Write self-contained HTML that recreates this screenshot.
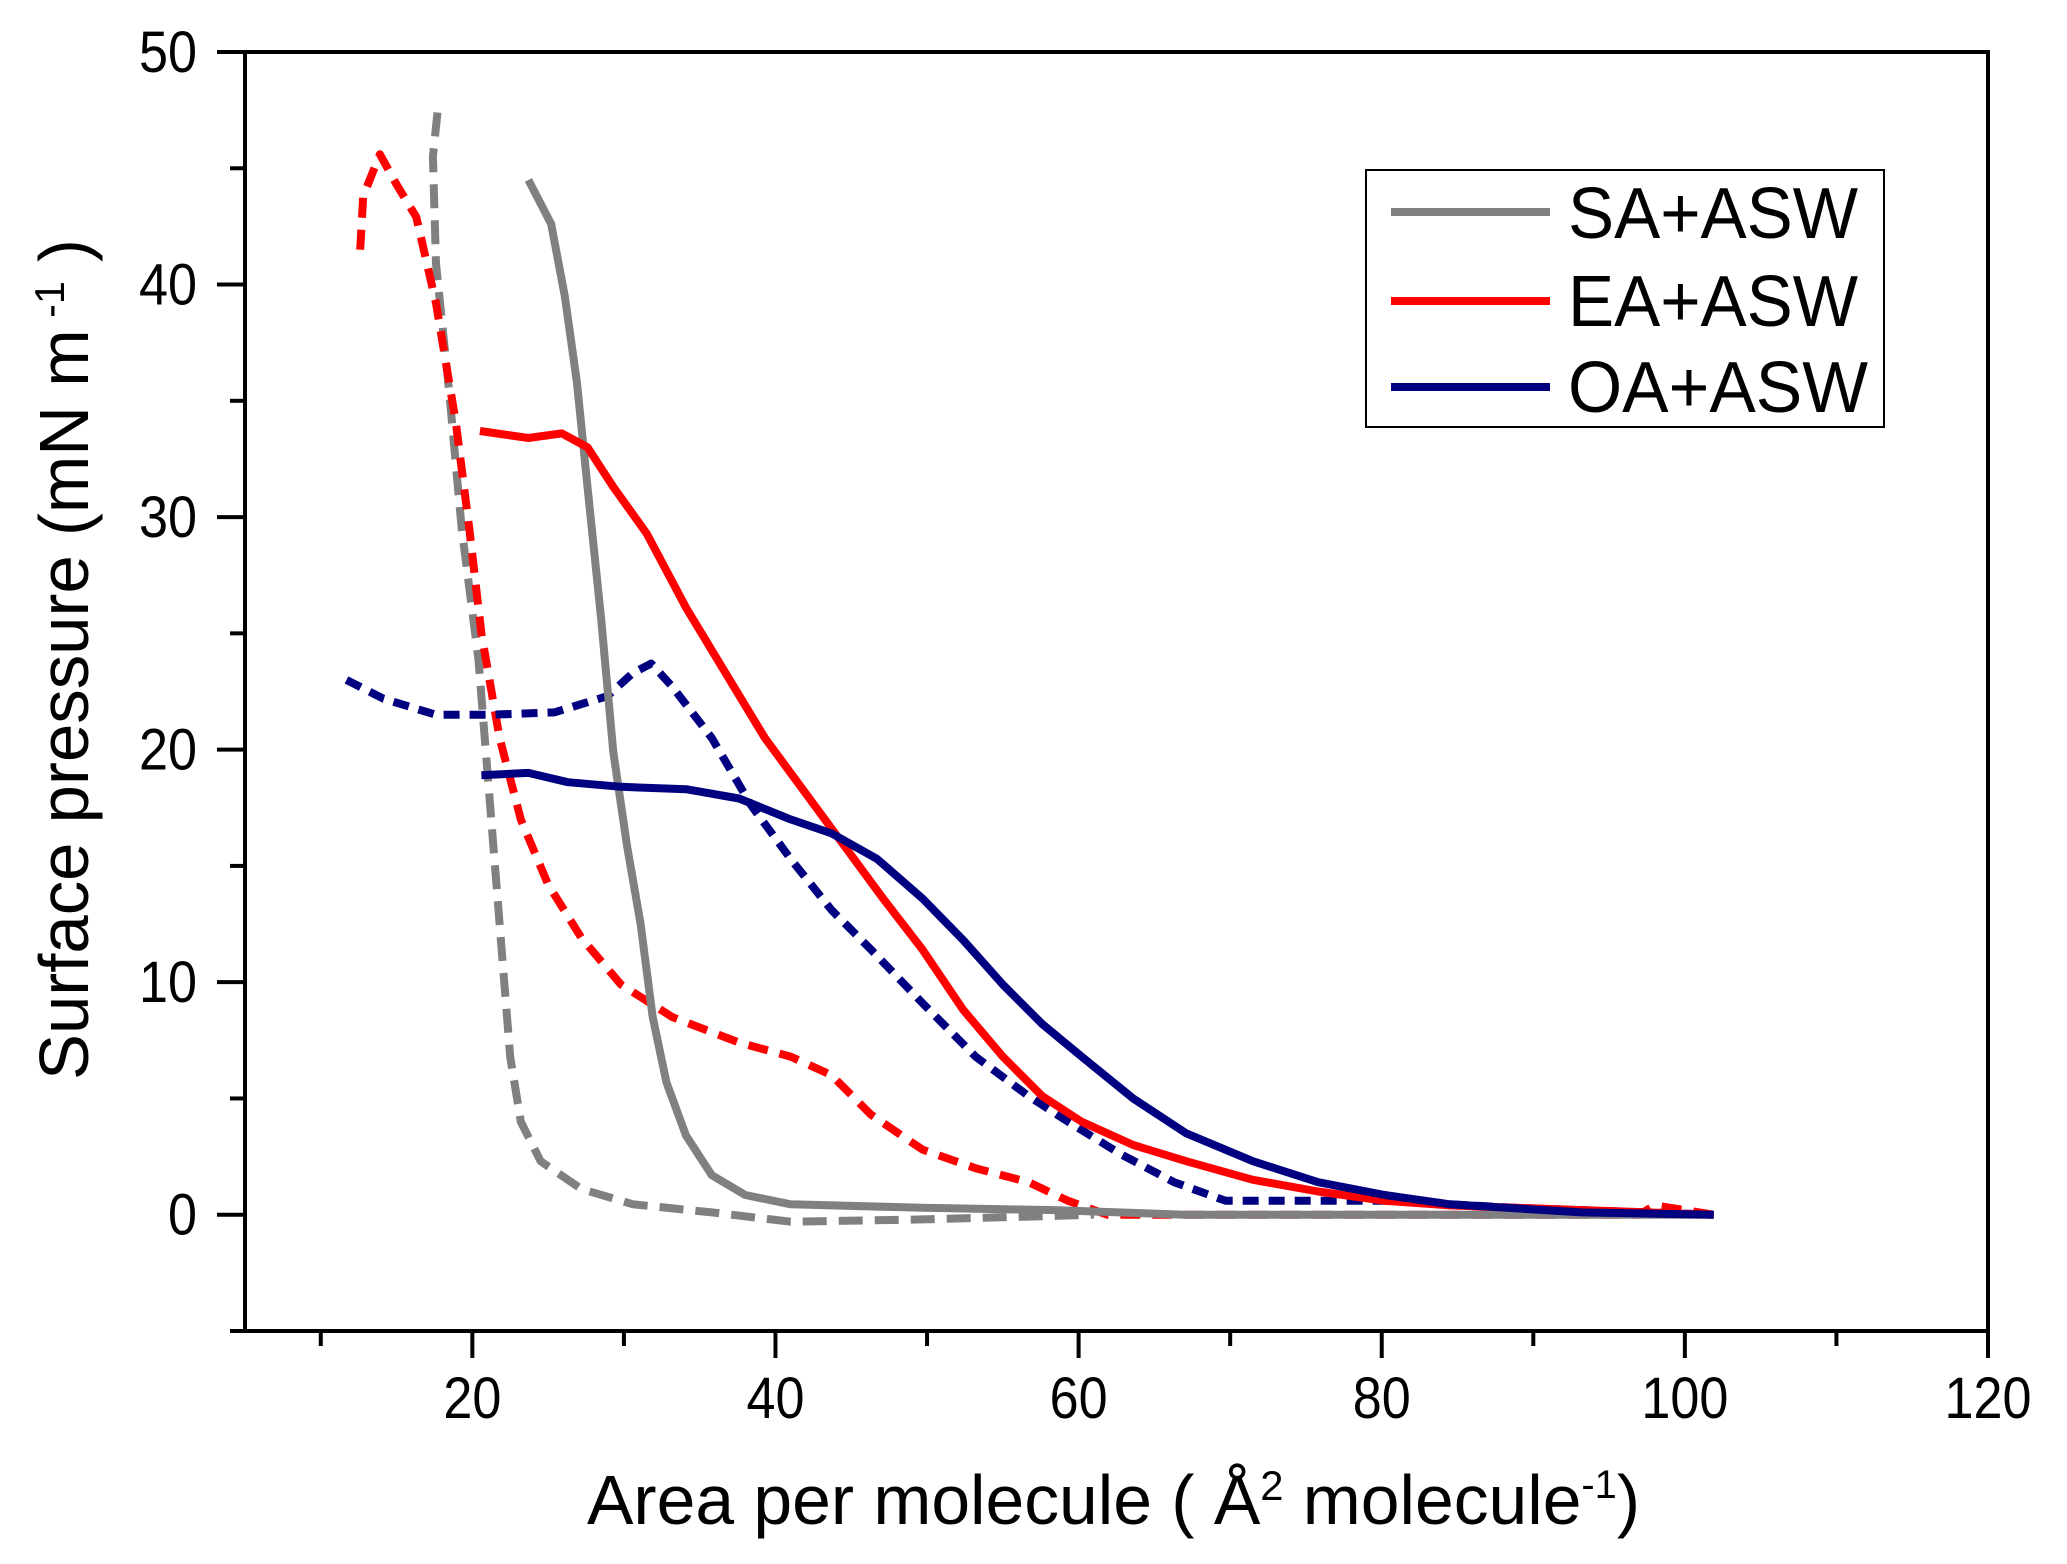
<!DOCTYPE html>
<html><head><meta charset="utf-8"><style>
html,body{margin:0;padding:0;background:#fff;}
svg{display:block;font-family:"Liberation Sans",Arial,sans-serif;}
</style></head><body>
<svg id="chart" width="2067" height="1564" viewBox="0 0 2067 1564">
<g id="plot"></g>
</svg>
<script>
const xTicks=[20,40,60,80,100,120];
const yTicks=[0,10,20,30,40,50];
const seriesNames=["SA+ASW","EA+ASW","OA+ASW"];
const saSolidX=[23.7,25.2,26.1,26.9,27.6,28.5,29.3,30.2,31.1,31.9,32.8,34.1,35.8,38.0,41,49.7,58.4,67,80,101.9];
const saSolidY=[44.5,42.6,39.5,35.8,31.3,25.6,19.9,15.9,12.5,8.5,5.7,3.4,1.7,0.85,0.45,0.3,0.2,0,0,0];
const saDashX=[17.7,17.4,17.6,18.5,19.3,20.4,21.1,21.8,22.5,23.2,24.5,27.2,30.6,35.8,41,49.7,58.4,61];
const saDashY=[47.4,45.5,40.9,35.2,29.5,23.9,18.2,12.5,6.8,4.0,2.3,1.1,0.45,0.1,-0.3,-0.2,-0.05,0];
const eaSolidX=[20.5,23.7,25.9,27.6,29.3,31.5,34.1,36.7,39.3,41.9,44.5,47.1,49.7,52.4,55,57.6,60.2,63.6,67.1,71.5,75.8,80.2,84.5,93.2,101.9];
const eaSolidY=[33.7,33.4,33.6,33.0,31.3,29.3,26.1,23.3,20.5,18.2,15.9,13.6,11.4,8.8,6.8,5.1,4.0,3.0,2.3,1.5,1.0,0.6,0.4,0.2,0];
const eaDashX=[12.6,12.8,13.9,15,16.3,17.6,18.9,19.8,20.6,21.8,23.2,25,27.2,29.8,33.2,37.6,41,43.7,46.3,49.7,53.2,56.7,59.3,61.9,80,97,98,101.9];
const eaDashY=[41.5,43.8,45.6,44.3,42.9,39.2,34.1,29.5,25,20.5,17,14.2,11.9,9.9,8.5,7.4,6.8,6.0,4.3,2.8,2.0,1.4,0.6,0,0,0,0.4,0];
const oaSolidX=[20.6,23.7,26.3,29.8,34.1,37.6,41,43.7,46.7,49.7,52.4,55,57.6,60.2,63.6,67.1,71.5,75.8,80.2,84.5,93.2,101.9];
const oaSolidY=[18.9,19.0,18.6,18.4,18.3,17.9,17.0,16.4,15.3,13.6,11.8,9.9,8.2,6.8,5.0,3.5,2.3,1.4,0.85,0.45,0.1,0];
const oaDashX=[11.7,14.1,17.6,21.1,25.4,28.9,30.6,31.8,33.2,35.8,38.4,41,43.7,46.3,49.7,53.2,56.7,59.3,62.8,66.3,69.7,73.2,80.2,88.8,101.9];
const oaDashY=[23.0,22.2,21.5,21.5,21.6,22.3,23.3,23.7,22.7,20.5,17.6,15.3,13.1,11.4,9.1,6.8,5.1,4.0,2.6,1.4,0.6,0.6,0.6,0.3,0];

const L=245,R=1988,T=52,B=1331,X0=5,X1=120,Y0=-5,Y1=50;
const sx=v=>L+(v-X0)/(X1-X0)*(R-L);
const sy=v=>B-(v-Y0)/(Y1-Y0)*(B-T);
const NS="http://www.w3.org/2000/svg";
const g=document.getElementById('plot');
function mk(tag,attrs,parent){const e=document.createElementNS(NS,tag);for(const k in attrs)e.setAttribute(k,attrs[k]);(parent||g).appendChild(e);return e;}

function line(xs,ys,color,dash,name){
  const d=xs.map((x,i)=>(i?'L':'M')+sx(x).toFixed(1)+','+sy(ys[i]).toFixed(1)).join(' ');
  const p=mk('path',{d:d,fill:'none',stroke:color,'stroke-width':8,'stroke-linejoin':'round','stroke-dasharray':dash||'none'});
  
  
}
line(saDashX,saDashY,'#808080','24 12','sa-dashed-line');
line(eaDashX,eaDashY,'#ff0000','20 12','ea-dashed-line');
line(oaDashX,oaDashY,'#000080','16 10','oa-dashed-line');
line(saSolidX,saSolidY,'#808080',null,'sa-solid-line');
line(eaSolidX,eaSolidY,'#ff0000',null,'ea-solid-line');
line(oaSolidX,oaSolidY,'#000080',null,'oa-solid-line');

const fr=mk('rect',{x:L,y:T,width:R-L,height:B-T,fill:'none',stroke:'#000','stroke-width':4});


for(let v=10;v<=120;v+=10){
  const major=v%20===0;
  const t=mk('line',{x1:sx(v),x2:sx(v),y1:B,y2:B+(major?27:15),stroke:'#000','stroke-width':4});
  
  
}
xTicks.forEach(v=>{
  const s=String(v);
  const t=mk('text',{x:sx(v),y:1418,'font-size':58,'text-anchor':'middle',fill:'#000',textLength:s.length*29,lengthAdjust:'spacingAndGlyphs'});
  t.textContent=s;
  
  
});
for(let v=-5;v<=50;v+=5){
  const major=v%10===0;
  const t=mk('line',{x1:L-(major?28:15),x2:L,y1:sy(v),y2:sy(v),stroke:'#000','stroke-width':4});
  
  
}
yTicks.forEach(v=>{
  const s=String(v);
  const t=mk('text',{x:197,y:sy(v)+20,'font-size':58,'text-anchor':'end',fill:'#000',textLength:s.length*29,lengthAdjust:'spacingAndGlyphs'});
  t.textContent=s;
  
  
});
</script>
<svg width="2067" height="1564" style="position:absolute;left:0;top:0" font-family="Liberation Sans, Arial, sans-serif">
<text x="587" y="1524" font-size="70" textLength="1053" lengthAdjust="spacingAndGlyphs">Area per molecule ( Å<tspan font-size="42" dy="-24">2</tspan><tspan dy="24">  molecule</tspan><tspan font-size="40" dy="-26">-1</tspan><tspan dy="26">)</tspan></text>
<text transform="translate(88,1080) rotate(-90)" font-size="70" textLength="841" lengthAdjust="spacingAndGlyphs">Surface pressure (mN m<tspan font-size="42" dy="-24"> -1</tspan><tspan dy="24"> )</tspan></text>
<g>
<rect x="1366" y="170" width="518" height="257" fill="#fff" stroke="#000" stroke-width="2"/>
<line x1="1391" x2="1550" y1="212" y2="212" stroke="#808080" stroke-width="8"/>
<line x1="1391" x2="1550" y1="301" y2="301" stroke="#ff0000" stroke-width="8"/>
<line x1="1391" x2="1550" y1="387" y2="387" stroke="#000080" stroke-width="8"/>
<text x="1568" y="238" font-size="72" textLength="290" lengthAdjust="spacingAndGlyphs">SA+ASW</text>
<text x="1568" y="326" font-size="72" textLength="290" lengthAdjust="spacingAndGlyphs">EA+ASW</text>
<text x="1568" y="412" font-size="72" textLength="300" lengthAdjust="spacingAndGlyphs">OA+ASW</text>
</g>
</svg>
</body></html>
